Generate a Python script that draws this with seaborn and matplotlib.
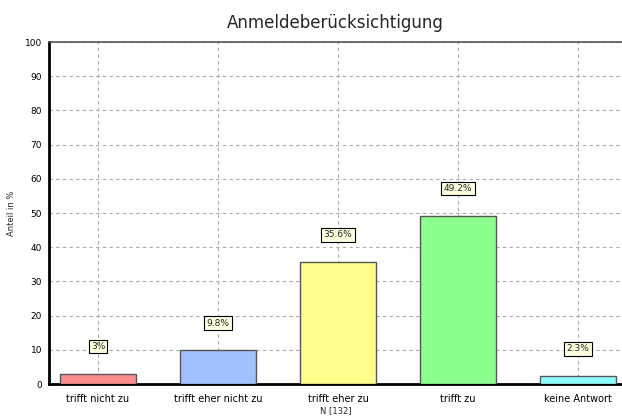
import numpy as np
import pandas as pd
import matplotlib
matplotlib.use("Agg")
import matplotlib.pyplot as plt
import seaborn as sns
from matplotlib.ticker import MultipleLocator

# data
categories = ["trifft nicht zu", "trifft eher nicht zu", "trifft eher zu", "trifft zu", "keine Antwort"]
values = [3.0, 9.8, 35.6, 49.2, 2.3]
value_labels = ["3%", "9.8%", "35.6%", "49.2%", "2.3%"]
bar_colors = ["#ff8c8c", "#a0c0ff", "#ffff8c", "#8cff8c", "#8cffff"]
title = "Anmeldeberücksichtigung"
y_label = "Anteil in %"
x_label = "N [132]"

df = pd.DataFrame({"Kategorie": categories, "Anteil": values})

sns.set_style("white")
plt.rcParams['font.family'] = ['DejaVu Sans']

fig = plt.figure(figsize=(6.22, 4.19), dpi=100)
ax = fig.add_axes([49 / 622, 1 - 384 / 419, 1 - 49 / 622, (384 - 42) / 419])

sns.barplot(data=df, x="Kategorie", y="Anteil", hue="Kategorie", palette=bar_colors,
            saturation=1, legend=False, width=0.633, edgecolor="#555555", linewidth=1.0,
            ax=ax, zorder=3)

# boxed value labels above the bars
for i, (v, lab) in enumerate(zip(values, value_labels)):
    ax.text(i, v + 8, lab, ha="center", va="center", fontsize=6.5, zorder=5,
            bbox=dict(boxstyle="square,pad=0.25", facecolor="#ffffe0", edgecolor="black", linewidth=0.8))

ax.set_xlim(-49 / 120, (622 - 98) / 120)
ax.set_ylim(0, 100)
ax.yaxis.set_major_locator(MultipleLocator(10))
ax.yaxis.set_minor_locator(MultipleLocator(2))
ax.xaxis.set_minor_locator(MultipleLocator(0.25))

ax.grid(True, which="major", linestyle=(0, (3, 3)), color="#aaaaaa", linewidth=0.8, zorder=0)
ax.set_axisbelow(True)

ax.tick_params(axis="both", which="major", direction="out", length=3, width=0.8,
               labelsize=6.5, colors="#555555", labelcolor="black", pad=2)
ax.tick_params(axis="both", which="minor", direction="out", length=2, width=0.6, colors="#888888")
ax.tick_params(axis="x", which="major", labelsize=7, pad=4)

for side in ["left", "bottom"]:
    ax.spines[side].set_linewidth(2)
    ax.spines[side].set_color("black")
ax.spines["top"].set_color("#555555")
ax.spines["top"].set_linewidth(1.2)
ax.spines["right"].set_visible(False)

ax.set_ylabel(y_label, fontsize=6, labelpad=6)
ax.set_xlabel(x_label, fontsize=6, labelpad=2)
ax.set_title(title, fontsize=12, pad=10)

fig.savefig("out.png", dpi=100)
